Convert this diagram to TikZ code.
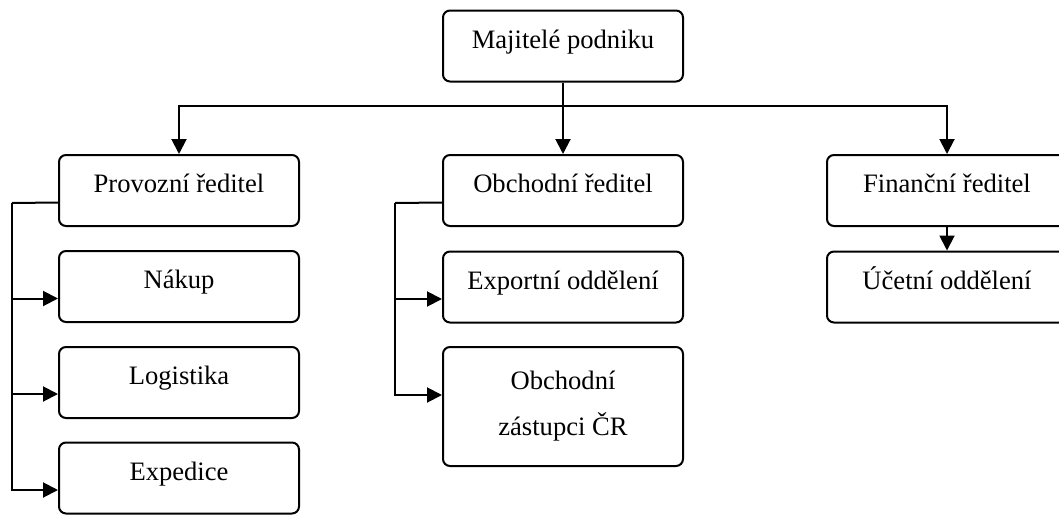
\documentclass[tikz,border=0pt]{standalone}
\usepackage{fontspec}
\setmainfont{Liberation Serif}
\usetikzlibrary{arrows.meta}

\begin{document}
\begin{tikzpicture}[x=0.5pt,y=-0.5pt,
        box/.style={draw,line width=1pt,rounded corners=3.5pt,minimum width=120pt,font=\fontsize{13.3}{16}\selectfont},
        onel/.style={box,minimum height=35.5pt,text height=10pt,text depth=8pt},
        twol/.style={box,minimum height=59.5pt,align=center},
        arr/.style={line width=1pt,-{Triangle[length=7.5pt,width=7.5pt]}},
        ln/.style={line width=1pt}]
        \useasboundingbox (0,0) rectangle (1059,514);
        \node[onel] (maj) at (563,46) {Majitelé podniku};
        \node[onel] (prov) at (179,190.5) {Provozní ředitel};
        \node[onel] (obch) at (563,190.5) {Obchodní ředitel};
        \node[onel] (fin) at (947,190.5) {Finanční ředitel};
        \node[onel] (nak) at (179,286.5) {Nákup};
        \node[onel] (logi) at (179,382.5) {Logistika};
        \node[onel] (exped) at (179,478) {Expedice};
        \node[onel] (expo) at (563,287) {Exportní oddělení};
        \node[twol] (zast) at (563,406.5) {Obchodní\\[7pt]zástupci ČR};
        \node[onel] (uce) at (947,287) {Účetní oddělení};
        \coordinate (c1) at (563,106);
        \coordinate (c2) at (12,203);
        \coordinate (c3) at (395,203);
        \draw[arr] (maj) -- (obch);
        \draw[arr] (c1) -| (prov);
        \draw[arr] (c1) -| (fin);
        \draw[arr] (fin) -- (uce);
        \draw[ln] ([yshift=-6pt]prov.west) -- (c2);
        \draw[arr] (c2) |- ([yshift=-6pt]nak.west);
        \draw[arr] (c2) |- ([yshift=-5.75pt]logi.west);
        \draw[arr] (c2) |- ([yshift=-6pt]exped.west);
        \draw[ln] ([yshift=-6pt]obch.west) -- (c3);
        \draw[arr] (c3) |- ([yshift=-6pt]expo.west);
        \draw[arr] (c3) |- ([yshift=5.75pt]zast.west);
\end{tikzpicture}
\end{document}
